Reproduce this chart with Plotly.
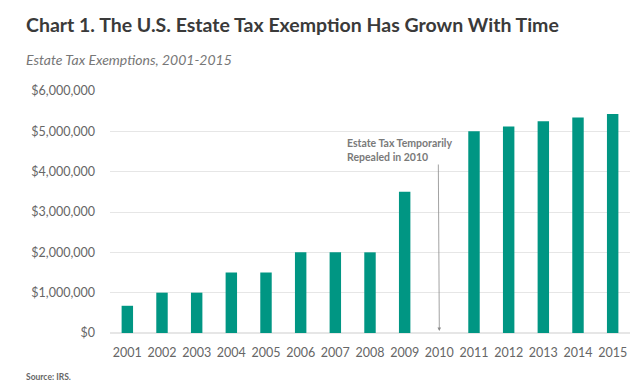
import plotly.graph_objects as go

years = [str(y) for y in range(2001, 2016)]
exemptions = [675000, 1000000, 1000000, 1500000, 1500000, 2000000, 2000000, 2000000,
              3500000, 0, 5000000, 5120000, 5250000, 5340000, 5430000]
y_ticks = [0, 1000000, 2000000, 3000000, 4000000, 5000000, 6000000]
y_tick_labels = ["$0", "$1,000,000", "$2,000,000", "$3,000,000", "$4,000,000", "$5,000,000", "$6,000,000"]
repeal_year = "2010"
repeal_idx = years.index(repeal_year)

fig = go.Figure()
fig.add_trace(go.Bar(x=years, y=exemptions, marker_color="#009683", width=0.33,
                     marker_line_width=0, hoverinfo="x+y"))

# arrow pointing at the repeal year
fig.add_annotation(x=repeal_idx, y=0.0, xref="x", yref="paper", text="",
                   showarrow=True, arrowhead=2, arrowsize=0.9, arrowwidth=0.8,
                   arrowcolor="#8a8a8a", ax=-1, ay=-170, standoff=2)
# annotation text
fig.add_annotation(x=repeal_idx, y=0.695, xref="x", yref="paper",
                   text="<b>Estate Tax Temporarily<br>Repealed in 2010</b>",
                   showarrow=False, align="left", xanchor="left", yanchor="bottom",
                   xshift=-94, font=dict(family="Lato", size=10.5, color="#7a7a7a"))

fig.add_annotation(text="<b>Chart 1. The U.S. Estate Tax Exemption Has Grown With Time</b>",
                   xref="paper", yref="paper", x=-0.165, y=1.275, xanchor="left", yanchor="middle",
                   showarrow=False, font=dict(family="Lato", size=19.5, color="#3a3a3a"))
fig.add_annotation(text="<i>Estate Tax Exemptions, 2001-2015</i>",
                   xref="paper", yref="paper", x=-0.165, y=1.13, xanchor="left", yanchor="middle",
                   showarrow=False, font=dict(family="Lato", size=14, color="#777777"))
fig.add_annotation(text="<b>Source: IRS.</b>",
                   xref="paper", yref="paper", x=-0.165, y=-0.18, xanchor="left", yanchor="middle",
                   showarrow=False, font=dict(family="Lato", size=8.5, color="#666666"))

fig.update_layout(
    width=640, height=389,
    margin=dict(l=110, r=10, t=91, b=56),
    paper_bgcolor="white", plot_bgcolor="white",
    showlegend=False,
    font=dict(family="Lato", color="#666666"),
)
fig.update_xaxes(type="category", range=[-0.5, 14.5], showgrid=False, showline=False,
                 ticks="", ticklabelstandoff=10,
                 tickfont=dict(family="Lato", size=12.5, color="#666666"))
fig.update_yaxes(range=[0, 6000000], tickvals=y_ticks, ticktext=y_tick_labels,
                 showgrid=True, gridcolor="#e6e6e6", gridwidth=1, zeroline=True,
                 zerolinecolor="#e6e6e6", showline=False, ticks="",
                 ticklabelstandoff=14, tickfont=dict(family="Lato", size=12.5, color="#666666"))

fig.write_html("out.html", config={"displayModeBar": False},
               post_script="document.body.style.margin='0';")
